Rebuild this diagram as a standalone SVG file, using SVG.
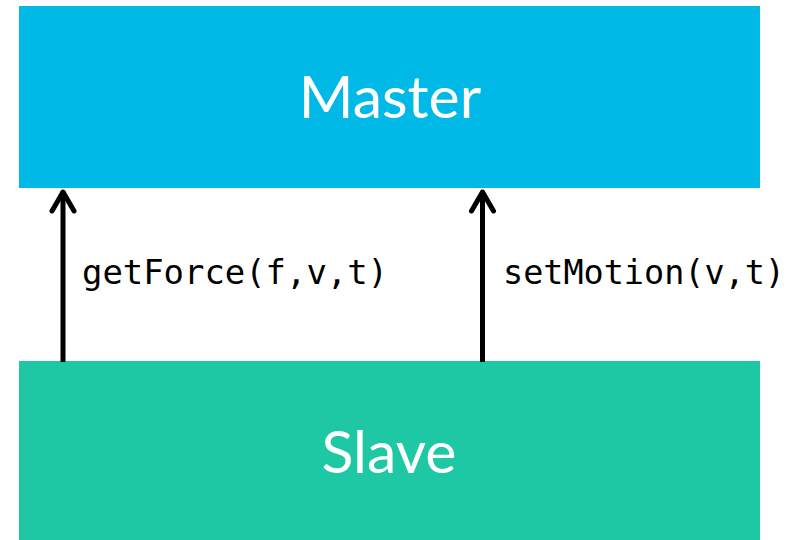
<svg xmlns="http://www.w3.org/2000/svg" width="803" height="540" viewBox="0 0 803 540">
<style>
.title{font-family:"Lato","Liberation Sans",sans-serif;font-size:59px;fill:#ffffff;text-anchor:middle}
.lbl{font-family:"DejaVu Sans Mono","Liberation Mono",monospace;font-size:34px;fill:#000000}
.conn{stroke:#000000;stroke-width:5;fill:none}
.head{stroke:#000000;stroke-width:5;fill:none;stroke-linecap:round;stroke-linejoin:round}
</style>
<rect width="803" height="540" fill="#ffffff"/>
<g id="master">
<rect x="19" y="6" width="741" height="182" fill="#00B9E6"/>
<text class="title" x="390" y="118">Master</text>
</g>
<g id="slave">
<rect x="19" y="361" width="741" height="179" fill="#1EC8A5"/>
<text class="title" x="389" y="473">Slave</text>
</g>
<g id="connectors">
<line class="conn" x1="63" y1="362" x2="63" y2="191"/>
<polyline class="head" points="52,211 63,192 74,211"/>
<line class="conn" x1="482.5" y1="362" x2="482.5" y2="191"/>
<polyline class="head" points="471.5,211 482.5,192 493.5,211"/>
<text class="lbl" x="82" y="284" textLength="306" lengthAdjust="spacingAndGlyphs">getForce(f,v,t)</text>
<text class="lbl" x="503" y="284" textLength="282" lengthAdjust="spacingAndGlyphs">setMotion(v,t)</text>
</g>
</svg>
